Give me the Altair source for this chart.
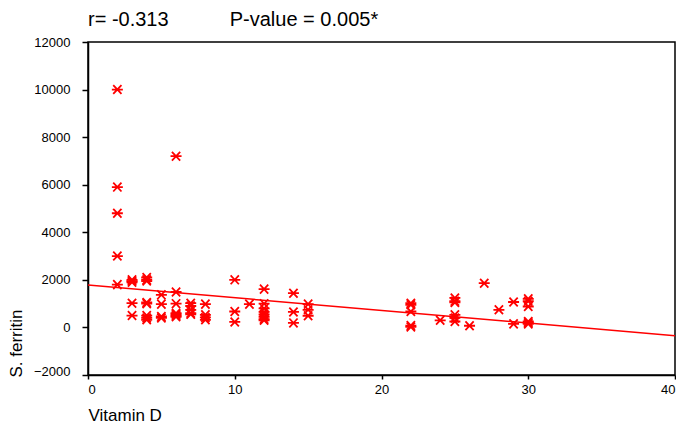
import altair as alt
import pandas as pd

# Vitamin D (x) and S. ferritin (y) readings
vit_d = [2, 2, 2, 2, 2,
         3, 3, 3, 3, 3,
         4, 4, 4, 4, 4, 4, 4, 4,
         5, 5, 5, 5,
         6, 6, 6, 6, 6, 6, 6,
         7, 7, 7, 7, 7,
         8, 8, 8, 8,
         10, 10, 10,
         11,
         12, 12, 12, 12, 12, 12, 12, 12,
         14, 14, 14,
         15, 15, 15,
         22, 22, 22, 22, 22,
         24,
         25, 25, 25, 25, 25, 25,
         26, 27, 28,
         29, 29,
         30, 30, 30, 30, 30, 30]
ferritin = [10000, 5900, 4800, 3000, 1800,
            2000, 1950, 1900, 1020, 500,
            2100, 2000, 1950, 1050, 1000, 500, 400, 320,
            1370, 980, 460, 400,
            7200, 1490, 1000, 600, 550, 500, 450,
            1020, 900, 740, 600, 550,
            980, 530, 420, 320,
            2000, 670, 230,
            980,
            1610, 1000, 800, 650, 550, 450, 350, 300,
            1440, 650, 190,
            980, 740, 490,
            1020, 950, 670, 80, 20,
            300,
            1240, 1100, 1050, 530, 400, 250,
            70, 1860, 740,
            1070, 150,
            1200, 1100, 880, 250, 200, 150]

# fitted regression line end points
fit_x = [0, 40]
fit_y = [1780, -350]

x_ticks = [0, 10, 20, 30, 40]
y_ticks = [-2000, 0, 2000, 4000, 6000, 8000, 10000, 12000]

title_text = "r= -0.313" + "\u00a0" * 11 + "P-value = 0.005*"

pts = pd.DataFrame({"x": vit_d, "y": ferritin})
fit = pd.DataFrame({"x": fit_x, "y": fit_y})

FONT = "Liberation Sans"
star = "M-1,0L1,0M-0.75,-0.8L0.75,0.8M-0.75,0.8L0.75,-0.8"

xs = alt.Scale(domain=[0, 40], nice=False, zero=False)
ys = alt.Scale(domain=[-2000, 12000], nice=False, zero=False)

x_axis = alt.Axis(
    title="Vitamin D", values=x_ticks, grid=False, tickSize=4, labelPadding=4,
    format="d",
    titleAnchor="start", titleX=0, titleY=40, titleBaseline="middle",
    titleAlign="left", labelFontSize=13, titleFontSize=17, titleFontWeight="normal",
)
y_axis = alt.Axis(
    title="S. ferritin", values=y_ticks, grid=False, tickSize=6, labelPadding=12,
    format="d",
    titleAnchor="start", titleX=-72, titleY=335, titleBaseline="middle",
    labelFontSize=13, titleFontSize=17, titleFontWeight="normal",
    labelBaseline={"condition": {"test": "datum.value == -2000", "value": "alphabetic"},
                   "value": "middle"},
)

points = alt.Chart(pts).mark_point(
    shape=star, filled=False, stroke="#ff0000", strokeWidth=1.8, size=121, opacity=1
).encode(
    x=alt.X("x:Q", scale=xs, axis=x_axis),
    y=alt.Y("y:Q", scale=ys, axis=y_axis),
)

line = alt.Chart(fit).mark_line(color="#ff0000", strokeWidth=1.5, clip=True).encode(
    x=alt.X("x:Q", scale=xs),
    y=alt.Y("y:Q", scale=ys),
)

chart = alt.layer(points, line).properties(
    width=587,
    height=333,
    title=alt.TitleParams(
        text=title_text, anchor="start", frame="group", fontSize=20, font=FONT,
        fontWeight="normal", offset=6, color="black",
    ),
    autosize=alt.AutoSizeParams(type="none"),
    padding={"left": 80, "top": 34, "right": 1, "bottom": 50},
).configure(
    font=FONT,
).configure_view(
    stroke="black", strokeWidth=1.5,
).configure_axis(
    domainColor="black", domainWidth=1.5, tickColor="black", tickWidth=1.5,
    labelColor="black", titleColor="black", labelFont=FONT, titleFont=FONT,
)

chart.save("out.html", embed_options={"renderer": "svg", "actions": False})
